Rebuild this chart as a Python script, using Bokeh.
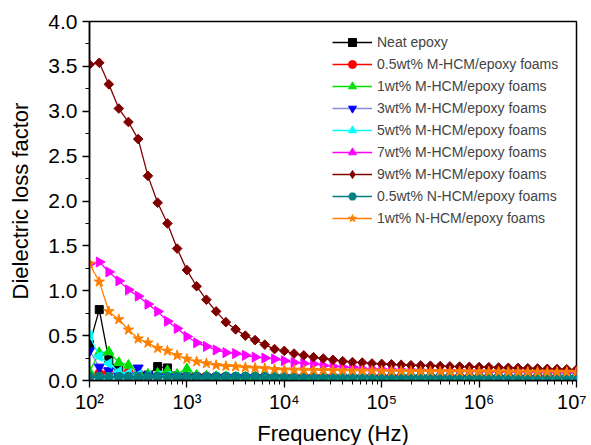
import math
from bokeh.plotting import figure
from bokeh.models import Legend, LegendItem, FixedTicker, PrintfTickFormatter
from bokeh.embed import file_html
from bokeh.resources import INLINE

freq = [100, 126, 158, 200, 251, 316, 398, 501, 631, 794,
        1000, 1259, 1585, 1995, 2512, 3162, 3981, 5012, 6310, 7943,
        10000, 12589, 15849, 19953, 25119, 31623, 39811, 50119, 63096, 79433,
        100000, 125893, 158489, 199526, 251189, 316228, 398107, 501187, 630957, 794328,
        1000000, 1258925, 1584893, 1995262, 2511886, 3162278, 3981072, 5011872, 6309573, 7943282,
        10000000]

neat = [0.40, 0.79, 0.23, 0.11, 0.06, 0.05, 0.06, 0.155, 0.14, 0.05,
        0.04, 0.035, 0.03, 0.03, 0.03, 0.028, 0.028, 0.027, 0.027, 0.026,
        0.026, 0.025, 0.025, 0.025, 0.024, 0.024, 0.024, 0.023, 0.023, 0.023,
        0.022, 0.022, 0.022, 0.022, 0.021, 0.021, 0.021, 0.021, 0.020, 0.020,
        0.020, 0.020, 0.020, 0.020, 0.019, 0.019, 0.019, 0.019, 0.019, 0.018,
        0.018]

m05 = [0.05, 0.08, 0.09, 0.07, 0.09, 0.06, 0.05, 0.05, 0.06, 0.05,
       0.05, 0.045, 0.045, 0.04, 0.04, 0.04, 0.038, 0.038, 0.037, 0.036,
       0.036, 0.035, 0.035, 0.034, 0.034, 0.033, 0.033, 0.033, 0.032, 0.032,
       0.032, 0.031, 0.031, 0.031, 0.030, 0.030, 0.030, 0.030, 0.029, 0.029,
       0.029, 0.029, 0.028, 0.028, 0.028, 0.028, 0.027, 0.027, 0.027, 0.027,
       0.026]

m1 = [0.10, 0.31, 0.32, 0.20, 0.17, 0.09, 0.07, 0.08, 0.11, 0.07,
      0.13, 0.06, 0.05, 0.045, 0.045, 0.04, 0.04, 0.04, 0.038, 0.038,
      0.037, 0.037, 0.036, 0.036, 0.035, 0.035, 0.035, 0.034, 0.034, 0.034,
      0.033, 0.033, 0.033, 0.032, 0.032, 0.032, 0.032, 0.031, 0.031, 0.031,
      0.031, 0.030, 0.030, 0.030, 0.030, 0.029, 0.029, 0.029, 0.029, 0.028,
      0.028]

m3 = [0.33, 0.15, 0.11, 0.05, 0.05, 0.14, 0.06, 0.04, 0.04, 0.035,
      0.035, 0.033, 0.032, 0.031, 0.030, 0.030, 0.029, 0.029, 0.028, 0.028,
      0.028, 0.027, 0.027, 0.027, 0.026, 0.026, 0.026, 0.026, 0.025, 0.025,
      0.025, 0.025, 0.024, 0.024, 0.024, 0.024, 0.024, 0.023, 0.023, 0.023,
      0.023, 0.023, 0.022, 0.022, 0.022, 0.022, 0.022, 0.022, 0.021, 0.021,
      0.021]

m5 = [0.50, 0.27, 0.19, 0.10, 0.08, 0.06, 0.05, 0.05, 0.05, 0.045,
      0.045, 0.042, 0.04, 0.04, 0.038, 0.038, 0.037, 0.036, 0.036, 0.035,
      0.035, 0.034, 0.034, 0.034, 0.033, 0.033, 0.033, 0.032, 0.032, 0.032,
      0.031, 0.031, 0.031, 0.031, 0.030, 0.030, 0.030, 0.030, 0.029, 0.029,
      0.029, 0.029, 0.029, 0.028, 0.028, 0.028, 0.028, 0.028, 0.027, 0.027,
      0.027]

m7 = [1.30, 1.32, 1.21, 1.11, 1.01, 0.94, 0.85, 0.77, 0.66, 0.58,
      0.49, 0.42, 0.38, 0.34, 0.31, 0.30, 0.28, 0.26, 0.25, 0.24,
      0.22, 0.20, 0.19, 0.185, 0.167, 0.16, 0.15, 0.15, 0.13, 0.128,
      0.125, 0.122, 0.12, 0.118, 0.115, 0.112, 0.11, 0.108, 0.105, 0.103,
      0.10, 0.098, 0.097, 0.095, 0.094, 0.092, 0.09, 0.089, 0.088, 0.087,
      0.085]

m9 = [3.52, 3.54, 3.30, 3.03, 2.88, 2.69, 2.28, 1.98, 1.75, 1.47,
      1.23, 1.05, 0.90, 0.77, 0.65, 0.57, 0.50, 0.45, 0.40, 0.35,
      0.33, 0.30, 0.28, 0.26, 0.245, 0.23, 0.215, 0.205, 0.20, 0.19,
      0.185, 0.18, 0.175, 0.17, 0.168, 0.165, 0.16, 0.157, 0.155, 0.152,
      0.15, 0.148, 0.145, 0.142, 0.14, 0.137, 0.134, 0.13, 0.127, 0.125,
      0.12]

n05 = [0.040, 0.040, 0.041, 0.040, 0.040, 0.040, 0.041, 0.040, 0.040, 0.040,
       0.041, 0.040, 0.040, 0.040, 0.041, 0.040, 0.040, 0.040, 0.041, 0.040,
       0.040, 0.040, 0.041, 0.040, 0.040, 0.040, 0.041, 0.040, 0.040, 0.040,
       0.041, 0.040, 0.040, 0.040, 0.041, 0.040, 0.040, 0.040, 0.041, 0.040,
       0.040, 0.040, 0.041, 0.040, 0.040, 0.040, 0.041, 0.040, 0.040, 0.040,
       0.040]

n1 = [1.30, 1.10, 0.77, 0.68, 0.565, 0.465, 0.42, 0.36, 0.33, 0.28,
      0.24, 0.21, 0.19, 0.17, 0.16, 0.155, 0.145, 0.14, 0.135, 0.125,
      0.12, 0.118, 0.116, 0.115, 0.113, 0.112, 0.11, 0.109, 0.108, 0.107,
      0.106, 0.105, 0.104, 0.103, 0.102, 0.102, 0.101, 0.100, 0.100, 0.099,
      0.099, 0.098, 0.098, 0.097, 0.097, 0.096, 0.096, 0.096, 0.095, 0.095,
      0.095]

labels = ["Neat epoxy", "0.5wt% M-HCM/epoxy foams", "1wt% M-HCM/epoxy foams",
          "3wt% M-HCM/epoxy foams", "5wt% M-HCM/epoxy foams", "7wt% M-HCM/epoxy foams",
          "9wt% M-HCM/epoxy foams", "0.5wt% N-HCM/epoxy foams", "1wt% N-HCM/epoxy foams"]
series = [neat, m05, m1, m3, m5, m7, m9, n05, n1]

x_ticks = [100, 1000, 10000, 100000, 1000000, 10000000]
x_tick_labels = ["10²", "10³", "10⁴", "10⁵", "10⁶", "10⁷"]
y_ticks = [0.0, 0.5, 1.0, 1.5, 2.0, 2.5, 3.0, 3.5, 4.0]
y_minor = [0.25, 0.75, 1.25, 1.75, 2.25, 2.75, 3.25, 3.75]
x_minor = [m * d for d in [100, 1000, 10000, 100000, 1000000] for m in range(2, 10)]

# styles
line_colors = ["#000000", "#FF0000", "#00E000", "#8888DD", "#00FFFF", "#FF00FF", "#800000", "#008080", "#FF8000"]
marker_colors = ["#000000", "#FF0000", "#00E000", "#0000FF", "#00FFFF", "#FF00FF", "#800000", "#008080", "#FF8000"]
markers = ["square", "circle", "triangle", "inverted_triangle", "triangle", "triangle", "square", "hex", "star"]
legend_markers = ["square", "circle", "triangle", "inverted_triangle", "triangle", "triangle", "diamond", "hex", "star"]
angles = [0, 0, 0, 0, math.pi / 2, -math.pi / 2, math.pi / 4, 0, 0]
sizes = [8, 9, 10, 10, 10, 10, 6.8, 10, 11]

FONT = "Liberation Sans"

p = figure(frame_width=487, frame_height=359, x_axis_type="log", x_range=(1e2, 1e7), y_range=(0, 4),
           output_backend="svg", toolbar_location=None,
           min_border_left=89, min_border_right=10, min_border_top=21, min_border_bottom=60)
p.xgrid.visible = False
p.ygrid.visible = False
p.outline_line_color = "#000000"
p.outline_line_width = 1.5
p.background_fill_color = "white"
p.border_fill_color = "white"

nan = float("nan")
items = []
for lab, ys, lc, mc, mk, lmk, ang, sz in zip(labels, series, line_colors, marker_colors,
                                               markers, legend_markers, angles, sizes):
    r1 = p.line(freq, ys, line_color=lc, line_width=1.3)
    r2 = p.scatter(freq, ys, marker=mk, angle=ang, size=sz, fill_color=mc, line_color=mc)
    if lmk != mk:
        r2 = p.scatter([nan], [nan], marker=lmk, size=sz, fill_color=mc, line_color=mc)
    items.append(LegendItem(label=lab, renderers=[r1, r2]))

legend = Legend(items=items, location=(243, 152), border_line_color=None,
                background_fill_alpha=0, padding=5, spacing=2, glyph_width=40, glyph_height=20,
                label_height=20, label_standoff=5, label_text_font=FONT,
                label_text_font_size="14px", margin=0)
p.add_layout(legend)

p.xaxis.ticker = FixedTicker(ticks=x_ticks, minor_ticks=x_minor)
p.xaxis.major_label_overrides = {t: l for t, l in zip(x_ticks, x_tick_labels)}
p.yaxis.ticker = FixedTicker(ticks=y_ticks, minor_ticks=y_minor)
p.yaxis.formatter = PrintfTickFormatter(format="%.1f")

for ax in (p.xaxis[0], p.yaxis[0]):
    ax.axis_line_width = 1.5
    ax.axis_line_color = "#000000"
    ax.major_tick_line_color = "#000000"
    ax.minor_tick_line_color = "#000000"
    ax.major_tick_line_width = 1.3
    ax.minor_tick_line_width = 1.0
    ax.major_tick_in = 0
    ax.major_tick_out = 7
    ax.minor_tick_in = 0
    ax.minor_tick_out = 4
    ax.major_label_text_font = FONT
    ax.major_label_text_color = "#000000"
    ax.axis_label_text_font = FONT
    ax.axis_label_text_font_style = "normal"
    ax.axis_label_text_font_size = "22px"
    ax.axis_label_text_color = "#000000"

p.xaxis.major_label_text_font_size = "20px"
p.yaxis.major_label_text_font_size = "21px"
p.xaxis.major_label_standoff = 3
p.yaxis.major_label_standoff = 5
p.xaxis.axis_label = "Frequency (Hz)"
p.yaxis.axis_label = "Dielectric loss factor"
p.xaxis.axis_label_standoff = 5
p.yaxis.axis_label_standoff = 12

open("out.html", "w").write(file_html(p, INLINE))
